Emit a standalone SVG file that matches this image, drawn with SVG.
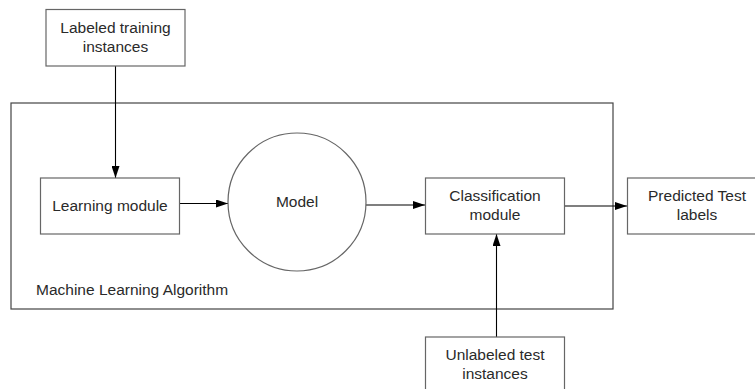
<svg xmlns="http://www.w3.org/2000/svg" width="755" height="389" viewBox="0 0 755 389">
<defs>
<style>
.box{fill:#fff;stroke:#666;stroke-width:1.2}
.cont{fill:none;stroke:#444;stroke-width:1.2}
.t{font-family:"Liberation Sans",Arial,sans-serif;font-size:15.5px;fill:#2a2a2a;text-anchor:middle}
.c{stroke:#000;stroke-width:1.1;fill:none;marker-end:url(#ah)}
</style>
<marker id="ah" viewBox="0 0 12 8" refX="12" refY="4" markerWidth="12" markerHeight="8" markerUnits="userSpaceOnUse" orient="auto">
<path d="M0,0 L12,4 L0,8 Z" fill="#000"/>
</marker>
</defs>
<rect x="0" y="0" width="755" height="389" fill="#fff"/>
<g id="algorithm">
<rect class="cont" x="11" y="103" width="602" height="206"/>
<text class="t" x="36" y="295" style="text-anchor:start">Machine Learning Algorithm</text>
</g>
<g id="connectors">
<line class="c" x1="115.5" y1="66" x2="115.5" y2="178"/>
<line class="c" x1="180" y1="203.5" x2="228" y2="203.5"/>
<line class="c" x1="366" y1="205" x2="425" y2="205"/>
<line class="c" x1="564" y1="206" x2="627" y2="206"/>
<line class="c" x1="496.5" y1="337" x2="496.5" y2="234"/>
</g>
<g id="labeled">
<rect class="box" x="46" y="9.5" width="139" height="56.5"/>
<text class="t" x="115.5" y="33">Labeled training</text>
<text class="t" x="115.5" y="51.5">instances</text>
</g>
<g id="learning">
<rect class="box" x="40.5" y="178" width="139" height="56"/>
<text class="t" x="110" y="211">Learning module</text>
</g>
<g id="model">
<circle class="box" cx="297" cy="202" r="69"/>
<text class="t" x="297" y="207">Model</text>
</g>
<g id="classification">
<rect class="box" x="425.5" y="178" width="139" height="56"/>
<text class="t" x="495" y="201">Classification</text>
<text class="t" x="495" y="220">module</text>
</g>
<g id="predicted">
<rect class="box" x="627.5" y="178" width="139" height="56"/>
<text class="t" x="697" y="201">Predicted Test</text>
<text class="t" x="697" y="220">labels</text>
</g>
<g id="unlabeled">
<rect class="box" x="425.5" y="337" width="139" height="56"/>
<text class="t" x="495" y="360">Unlabeled test</text>
<text class="t" x="495" y="378.5">instances</text>
</g>
</svg>
